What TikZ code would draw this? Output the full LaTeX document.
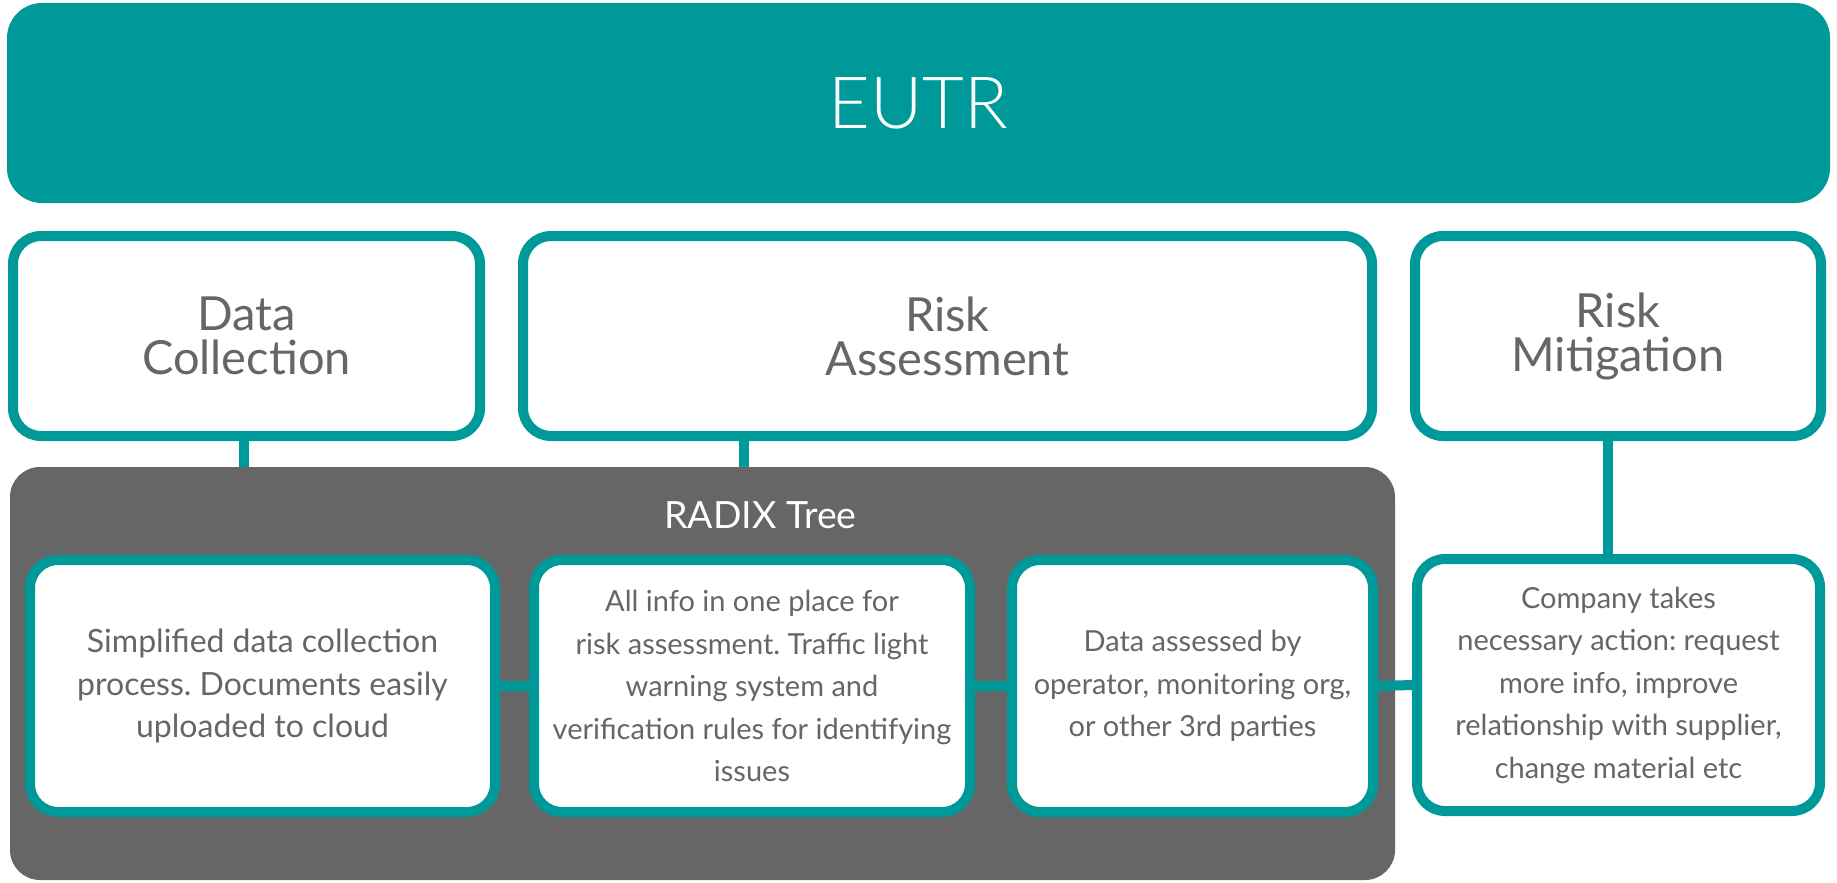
\documentclass[tikz,border=0pt]{standalone}
\usepackage{fontspec}
\setmainfont{Lato}
\newfontfamily\latolight{Lato Light}
\definecolor{eutrteal}{HTML}{009999}
\definecolor{panelgray}{HTML}{666666}
\definecolor{txtgray}{HTML}{666666}
\tikzset{
  banner/.style={fill=eutrteal, rounded corners=35pt, inner sep=0pt, outer sep=0pt,
    text=white, font=\latolight\fontsize{72}{72}\selectfont},
  phasebox/.style={draw=eutrteal, line width=10pt, fill=white, rounded corners=28pt,
    inner sep=0pt, text=txtgray, align=center, font=\fontsize{47}{44}\selectfont},
  panel/.style={fill=panelgray, rounded corners=30pt, inner sep=0pt, outer sep=0pt},
  panellabel/.style={text=white, inner sep=0pt, font=\fontsize{37.5}{40}\selectfont},
  stepbox/.style={draw=eutrteal, line width=10pt, fill=white, rounded corners=28pt,
    inner sep=0pt, text=txtgray, align=center, font=\fontsize{29}{42.5}\selectfont},
  conn/.style={draw=eutrteal, line width=10pt}
}
\begin{document}
\frenchspacing
\begin{tikzpicture}[x=1pt,y=-1pt]
\useasboundingbox[fill=white] (0,0) rectangle (1837,883);
% banner
\node[banner, minimum width=1823pt, minimum height=200pt] (eutr) at (918.5,103) {EUTR};
% phase boxes
\node[phasebox, minimum width=467pt, minimum height=200pt] (dc) at (246.5,336) {Data\\Collection};
\node[phasebox, minimum width=849pt, minimum height=200pt] (ra) at (947.5,336) {Risk\\Assessment};
\node[phasebox, minimum width=406pt, minimum height=200pt] (rm) at (1618,336) {Risk\\Mitigation};
% panel
\node[panel, minimum width=1385pt, minimum height=413pt] (radix) at (702.5,673.5) {};
\node[panellabel] (radixlbl) at (760.5,515) {RADIX Tree};
% step boxes
\node[stepbox, minimum width=465pt, minimum height=252pt, font=\fontsize{32}{42.5}\selectfont] (s1) at (262.5,686) {Simplified data collection\\process. Documents easily\\uploaded to cloud};
\node[stepbox, minimum width=436pt, minimum height=252pt] (s2) at (752,686) {All info in one place for\\risk assessment. Traffic light\\warning system and\\verification rules for identifying\\issues};
\node[stepbox, minimum width=361pt, minimum height=252pt] (s3) at (1192.5,686) {Data assessed by\\operator, monitoring org,\\or other 3rd parties};
\node[stepbox, minimum width=403pt, minimum height=252pt] (s4) at (1618.5,685) {Company takes\\necessary action: request\\more info, improve\\relationship with supplier,\\change material etc};
% connectors
\draw[conn] ([xshift=-2.5pt]dc.south) -- ([xshift=-2.5pt]dc.south |- radix.north);
\draw[conn] ([xshift=226pt]ra.south west) -- ([xshift=226pt]ra.south west |- radix.north);
\draw[conn] ([xshift=-10pt]rm.south) -- ([xshift=-10pt]rm.south |- s4.north);
\draw[conn] (s1.east) -- (s2.west);
\draw[conn] (s2.east) -- (s3.west);
\draw[conn] (s3.east) -- (s4.west);
\end{tikzpicture}
\end{document}
